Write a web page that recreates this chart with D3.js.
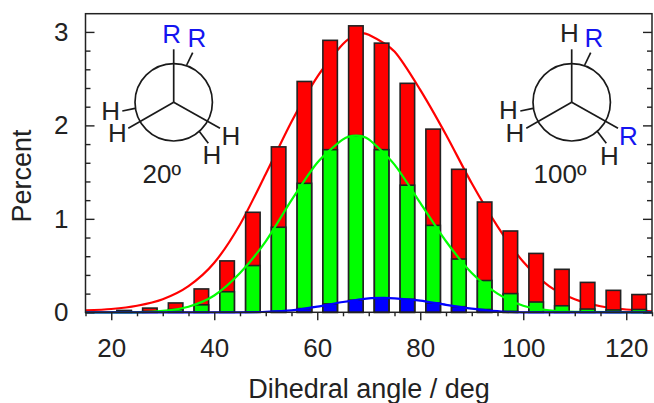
<!DOCTYPE html>
<html>
<head>
<meta charset="utf-8">
<script src="https://cdn.jsdelivr.net/npm/d3@7"></script>
<style>
    html, body { margin: 0; padding: 0; background: #fff; }
    text { font-family: "Liberation Sans", Arial, sans-serif; fill: #222; }
    .axis path { display: none; }
    .axis line { stroke: #222; stroke-width: 1.4; }
</style>
</head>
<body>
<div id="chart"></div>
<script>
// bin centres, deg
var angles = [22.5, 27.5, 32.5, 37.5, 42.5, 47.5, 52.5, 57.5, 62.5, 67.5, 72.5, 77.5, 82.5, 87.5, 92.5, 97.5, 102.5, 107.5, 112.5, 117.5, 122.5];
var redBars = [0.02, 0.045, 0.10, 0.25, 0.55, 1.07, 1.77, 2.47, 2.91, 3.065, 2.88, 2.45, 1.96, 1.53, 1.18, 0.87, 0.63, 0.46, 0.32, 0.235, 0.19];
var greenBars = [0.01, 0.01, 0.03, 0.08, 0.22, 0.50, 0.91, 1.38, 1.74, 1.89, 1.74, 1.36, 0.93, 0.57, 0.34, 0.20, 0.11, 0.07, 0.035, 0.025, 0.03];
var blueBars = [0, 0, 0, 0, 0, 0, 0.01, 0.04, 0.09, 0.13, 0.15, 0.14, 0.10, 0.06, 0.03, 0.01, 0, 0, 0, 0, 0];

// curves
var redCurveX = [15, 20, 25, 30, 35, 40, 45, 50, 55, 60, 65, 68, 70, 75, 80, 85, 90, 95, 100, 105, 110, 115, 120, 125];
var redCurveY = [0.02, 0.035, 0.07, 0.14, 0.28, 0.53, 0.94, 1.48, 2.04, 2.52, 2.87, 2.98, 2.97, 2.79, 2.38, 1.9, 1.38, 0.92, 0.54, 0.28, 0.14, 0.065, 0.03, 0.01];
var greenCurveX = [15, 25, 30, 35, 40, 45, 50, 55, 60, 65, 67.5, 70, 75, 80, 85, 90, 95, 100, 105, 110, 125];
var greenCurveY = [0, 0, 0.015, 0.06, 0.18, 0.42, 0.76, 1.2, 1.6, 1.85, 1.89, 1.85, 1.58, 1.17, 0.76, 0.42, 0.2, 0.07, 0.02, 0.005, 0];
var blueCurveX = [15, 45, 50, 55, 60, 65, 70, 73, 75, 80, 85, 90, 95, 100, 125];
var blueCurveY = [0, 0, 0.005, 0.02, 0.06, 0.11, 0.15, 0.155, 0.15, 0.125, 0.08, 0.04, 0.012, 0, 0];

var xTicks = [20, 40, 60, 80, 100, 120];
var xMinor = [15, 25, 30, 35, 45, 50, 55, 65, 70, 75, 85, 90, 95, 105, 110, 115, 125];
var yTicks = [0, 1, 2, 3];
var yMinor = [0.2, 0.4, 0.6, 0.8, 1.2, 1.4, 1.6, 1.8, 2.2, 2.4, 2.6, 2.8];

var width = 654, height = 403;
var svg = d3.select("#chart").append("svg").attr("width", width).attr("height", height).style("display", "block");

var x = d3.scaleLinear().domain([15, 125]).range([85.5, 652]);
var y = d3.scaleLinear().domain([0, 3.195]).range([312.3, 13.7]);
var barW = 14.5;

var line = function(xs, ys) {
    return d3.line()
        .x(function(d) { return x(d); })
        .y(function(d, i) { return y(ys[i]); })
        .curve(d3.curveCardinal.tension(0.2))(xs);
};

function drawBars(values, fill) {
    svg.append("g").selectAll("rect")
        .data(angles)
        .enter().append("rect")
        .filter(function(d, i) { return values[i] > 0; })
        .attr("x", function(d) { return x(d) - barW / 2; })
        .attr("y", function(d) { return y(values[angles.indexOf(d)]); })
        .attr("width", barW)
        .attr("height", function(d) { return y(0) - y(values[angles.indexOf(d)]); })
        .attr("fill", fill)
        .attr("stroke", "#222")
        .attr("stroke-width", 1.6);
}

function drawCurve(xs, ys, color) {
    svg.append("path")
        .attr("d", line(xs, ys))
        .attr("fill", "none")
        .attr("stroke", color)
        .attr("stroke-width", 2.2);
}

drawCurve(redCurveX, redCurveY, "#ff0000");
drawBars(redBars, "#ff0000");
drawBars(greenBars, "#00ff00");
drawCurve(greenCurveX, greenCurveY, "#00ff00");
drawBars(blueBars, "#0000ff");
drawCurve(blueCurveX, blueCurveY, "#0000ff");

// frame
svg.append("rect")
    .attr("x", x(15)).attr("y", y.range()[1])
    .attr("width", x(125) - x(15)).attr("height", y(0) - y.range()[1])
    .attr("fill", "none").attr("stroke", "#222").attr("stroke-width", 1.5);

// axes
var gx = svg.append("g").attr("class", "axis").attr("transform", "translate(0," + y(0) + ")");
gx.call(d3.axisBottom(x).tickValues(xTicks).tickSize(8).tickPadding(18).tickFormat(d3.format("d")));
gx.selectAll("text").attr("font-size", 26);
svg.append("g").attr("class", "axis").attr("transform", "translate(0," + y(0) + ")")
    .call(d3.axisBottom(x).tickValues(xMinor).tickSize(4).tickFormat(""));

var gy = svg.append("g").attr("class", "axis").attr("transform", "translate(" + x(15) + ",0)");
gy.call(d3.axisLeft(y).tickValues(yTicks).tickSize(-9).tickPadding(17).tickFormat(d3.format("d")));
gy.selectAll("text").attr("font-size", 26);
svg.append("g").attr("class", "axis").attr("transform", "translate(" + x(15) + ",0)")
    .call(d3.axisLeft(y).tickValues(yMinor).tickSize(-5).tickFormat(""));
svg.append("g").attr("class", "axis").attr("transform", "translate(" + x(125) + ",0)")
    .call(d3.axisRight(y).tickValues(yTicks).tickSize(-9).tickFormat(""));
svg.append("g").attr("class", "axis").attr("transform", "translate(" + x(125) + ",0)")
    .call(d3.axisRight(y).tickValues(yMinor).tickSize(-5).tickFormat(""));

svg.append("text")
    .attr("x", 369).attr("y", 398)
    .attr("text-anchor", "middle").attr("font-size", 27)
    .text("Dihedral angle / deg");
svg.append("text")
    .attr("transform", "translate(31,176) rotate(-90)")
    .attr("text-anchor", "middle").attr("font-size", 27)
    .text("Percent");

// newman projections
var frontBonds = [[0, -53], [-45.4, 26], [46.3, 26]];
var backBonds = [[13, -37.3, 19, -49.6], [-38.7, 6, -51.4, 8.7], [25.3, 28.7, 34.6, 41]];

function newman(cx, cy, labels, angleLabel, angleX) {
    var g = svg.append("g");
    var bonds = g.append("g").attr("transform", "translate(" + cx + "," + cy + ")")
        .attr("stroke", "#1a1a1a").attr("stroke-width", 1.7).attr("fill", "none");
    bonds.append("circle").attr("r", 38.7);
    bonds.selectAll("line.front").data(frontBonds).enter().append("line")
        .attr("class", "front")
        .attr("x1", 0).attr("y1", 0)
        .attr("x2", function(d) { return d[0]; }).attr("y2", function(d) { return d[1]; });
    bonds.selectAll("line.back").data(backBonds).enter().append("line")
        .attr("class", "back")
        .attr("x1", function(d) { return d[0]; }).attr("y1", function(d) { return d[1]; })
        .attr("x2", function(d) { return d[2]; }).attr("y2", function(d) { return d[3]; });

    g.selectAll("text.atom").data(labels).enter().append("text")
        .attr("class", "atom")
        .attr("x", function(d) { return d[1]; })
        .attr("y", function(d) { return d[2]; })
        .attr("text-anchor", "middle")
        .attr("font-size", 26)
        .style("fill", function(d) { return d[0] == "R" ? "#1414f0" : "#222"; })
        .text(function(d) { return d[0]; });

    g.append("text").attr("x", angleX).attr("y", 183)
        .attr("text-anchor", "middle").attr("font-size", 26)
        .text(angleLabel);
}

newman(173.7, 102.3, [
    ["R", 171.7, 43], ["R", 197, 46.7], ["H", 110.7, 120],
    ["H", 117.3, 141.7], ["H", 231, 145], ["H", 212, 164]
], "20º", 161.7);
newman(571.7, 102.3, [
    ["H", 569.3, 42.3], ["R", 594, 47], ["H", 508.3, 119.3],
    ["H", 515, 141.7], ["R", 628.3, 145], ["H", 609.3, 165]
], "100º", 560);
</script>
</body>
</html>
